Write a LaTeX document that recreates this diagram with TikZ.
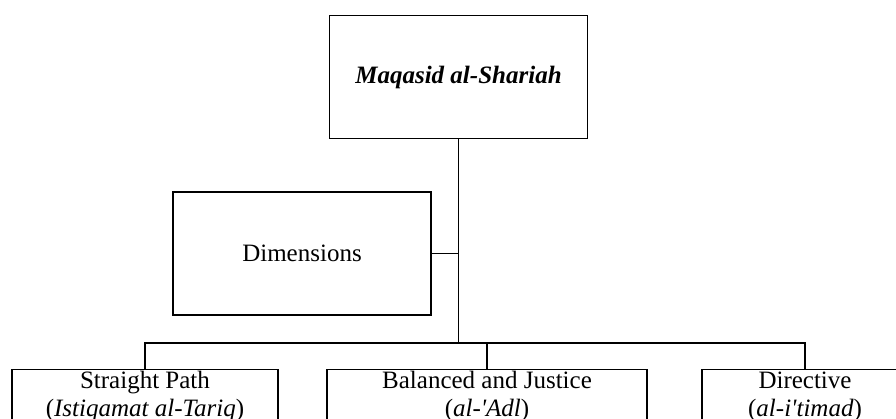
\documentclass[tikz,border=0pt]{standalone}
\usepackage{fontspec}
\setmainfont{Liberation Serif}
\usetikzlibrary{positioning}

\begin{document}
\begin{tikzpicture}[x=1pt,y=-1pt,line width=1.4pt,
  font=\fontsize{25}{28}\selectfont,
  dimbox/.style={draw,minimum width=258pt,minimum height=123pt,inner sep=0pt,align=center},
  leafbox/.style={draw,anchor=north,minimum height=64pt,inner sep=2pt,align=center,
                  text height=45pt,text depth=15pt}]
  \useasboundingbox (0,0) rectangle (896,419);
  \clip (0,0) rectangle (896,419);
  \node[dimbox] (maq) at (458.5,77) {\textbf{\textit{Maqasid al-Shariah}}};
  \node[dimbox] (dim) at (302,253.5) {Dimensions};
  \coordinate (bus) at (458.5,343);
  \node[leafbox,minimum width=266pt] (path) at (145,369) {Straight Path\\(\textit{Istiqamat al-Tariq})};
  \node[leafbox,minimum width=320pt] (just) at (487,369) {Balanced and Justice\\(\textit{al-\textquotesingle Adl})};
  \node[leafbox,minimum width=206pt] (dir) at (805,369) {Directive\\(\textit{al-i\textquotesingle timad})};
  \draw (maq.south) -- (bus);
  \draw (dim.east) -- (dim.east -| bus);
  \draw (path.north) |- (bus);
  \draw (just.north) |- (bus);
  \draw (dir.north) |- (bus);
\end{tikzpicture}
\end{document}
